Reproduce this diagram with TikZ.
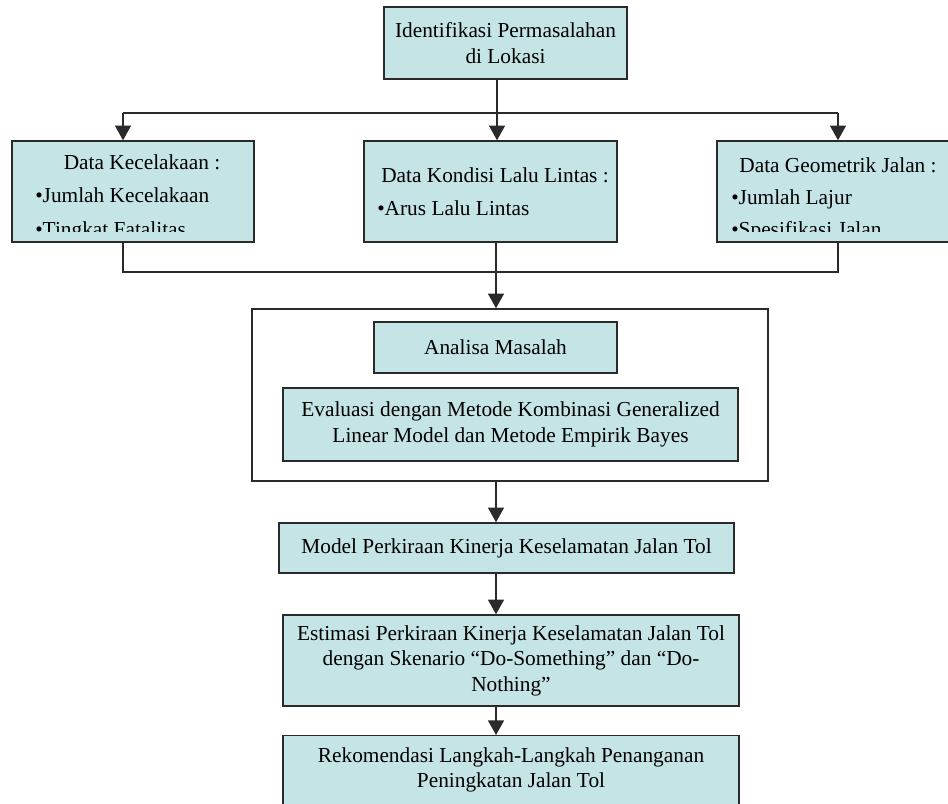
\documentclass[tikz,border=0pt]{standalone}
\usepackage{fontspec}
\setmainfont{Liberation Serif}
\usetikzlibrary{arrows.meta}
\definecolor{boxfill}{HTML}{C5E4E6}
\definecolor{lineclr}{HTML}{2A2A2A}
\newcommand\mybox[6]{%
  \node[box, minimum width={(#4-#2)*0.75pt}, minimum height={(#5-#3)*0.75pt}]
    (#1) at ({(#2+#4)/2},{(#3+#5)/2}) {#6};}
\tikzset{
  box/.style={draw=lineclr, fill=boxfill, line width=1.1pt, inner sep=0pt, align=center},
  frame/.style={draw=lineclr, fill=white, line width=1.1pt, inner sep=0pt},
  conn/.style={draw=lineclr, line width=1.1pt},
  arr/.style={conn, -{Triangle[width=12pt,length=11pt]}},
  txt/.style={inner sep=0pt, anchor=base west},
  ctxt/.style={inner sep=0pt, anchor=base},
  mtxt/.style={inner sep=0pt, align=center}
}
\begin{document}
\begin{tikzpicture}[x=0.75pt,y=-0.75pt,font=\fontsize{16}{19.2}\selectfont]
\useasboundingbox (0,0) rectangle (948,803);
\clip (0,0) rectangle (948,803);
% top
\mybox{ident}{384}{7}{627}{79}{Identifikasi Permasalahan\\di Lokasi}
% three data boxes
\mybox{kec}{12}{141}{254}{242}{}
\mybox{lalu}{364}{141}{617}{242}{}
\mybox{geo}{717}{141}{960}{242}{}
\node[ctxt] (kecT) at (142,169) {Data Kecelakaan :};
\node[txt] (kec1) at (35,202) {\textbullet Jumlah Kecelakaan};
\node[ctxt] (laluT) at (495,182) {Data Kondisi Lalu Lintas :};
\node[txt] (lalu1) at (377,215) {\textbullet Arus Lalu Lintas};
\node[ctxt] (geoT) at (838,172) {Data Geometrik Jalan :};
\node[txt] (geo1) at (731,204) {\textbullet Jumlah Lajur};
\begin{scope}
  \clip (0,140) rectangle (948,231);
  \node[txt] (kec2) at (35,236) {\textbullet Tingkat Fatalitas};
  \node[txt] (geo2) at (731,236) {\textbullet Spesifikasi Jalan};
\end{scope}
% frame
\node[frame, minimum width={516*0.75pt}, minimum height={172*0.75pt}] (frame) at (510,395) {};
\mybox{anal}{374}{322}{617}{373}{Analisa Masalah}
\mybox{eval}{283}{388}{738}{461}{Evaluasi dengan Metode Kombinasi Generalized\\Linear Model dan Metode Empirik Bayes}
\mybox{model}{279}{523}{734}{573}{Model Perkiraan Kinerja Keselamatan Jalan Tol}
\mybox{estim}{283}{615}{739}{706}{Estimasi Perkiraan Kinerja Keselamatan Jalan Tol\\dengan Skenario “Do-Something” dan “Do-\\Nothing”}
\node[box, minimum width={456*0.75pt}, minimum height={110*0.75pt}, anchor=north] (rekom) at (511,735) {};
\node[mtxt] (rekomT) at (511,770) {Rekomendasi Langkah-Langkah Penanganan\\Peningkatan Jalan Tol};
% connectors
\coordinate (j1) at (497,113);
\coordinate (aL) at (123,113);
\coordinate (aR) at (838,113);
\draw[arr] (ident.south -| j1) -- (lalu.north -| j1);
\draw[conn] (aL) -- (aR);
\draw[arr] (aL) -- (aL |- kec.north);
\draw[arr] (aR) -- (aR |- geo.north);
\coordinate (bL) at (123,272);
\coordinate (bM) at (496,272);
\coordinate (bR) at (838,272);
\draw[conn] (bL |- kec.south) -- (bL) -- (bR) -- (bR |- geo.south);
\draw[conn] (bM |- lalu.south) -- (bM);
\draw[arr] (bM) -- (bM |- frame.north);
\draw[arr] (bM |- frame.south) -- (bM |- model.north);
\draw[arr] (bM |- model.south) -- (bM |- estim.north);
\draw[arr] (bM |- estim.south) -- (bM |- rekom.north);
\end{tikzpicture}
\end{document}
